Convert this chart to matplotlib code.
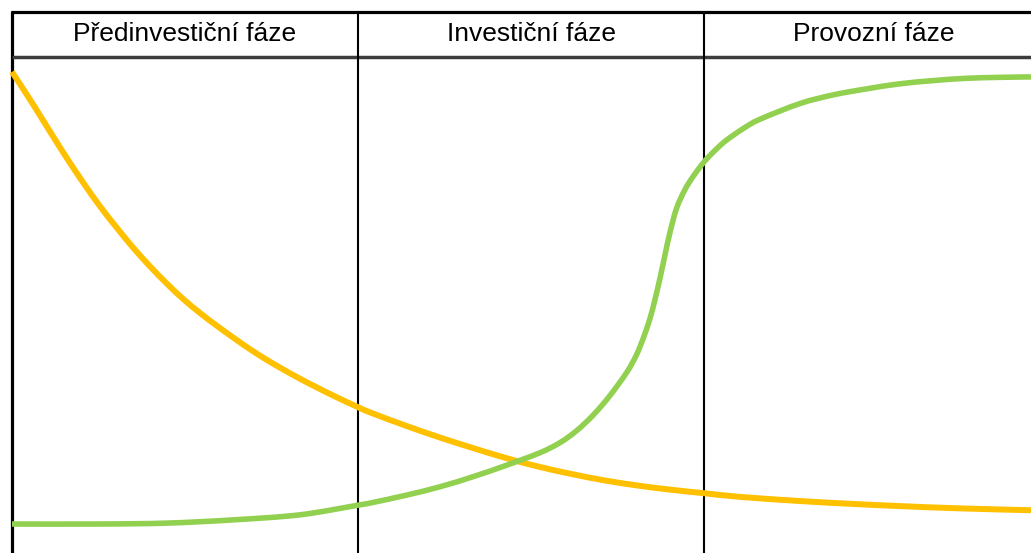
import matplotlib
matplotlib.use("Agg")
import matplotlib.pyplot as plt
from matplotlib.path import Path
from matplotlib.patches import PathPatch

# Phase headers
phases = ["Předinvestiční fáze", "Investiční fáze", "Provozní fáze"]

# Orange curve (decreasing), x in phase units, value 0..1
orange_x = [0.0, 0.062, 0.110, 0.158, 0.206, 0.254, 0.303, 0.351, 0.399, 0.447,
            0.495, 0.543, 0.592, 0.640, 0.688, 0.736, 0.784, 0.832, 0.881, 0.929,
            1.0, 1.044, 1.141, 1.237, 1.333, 1.430, 1.526, 1.622, 1.719, 1.815,
            1.911, 2.0, 2.104, 2.277, 2.422, 2.566, 2.740, 2.945]
orange_y = [0.996, 0.924, 0.866, 0.809, 0.755, 0.704, 0.657, 0.613, 0.573, 0.536,
            0.502, 0.472, 0.444, 0.418, 0.393, 0.370, 0.349, 0.329, 0.310, 0.292,
            0.267, 0.253, 0.226, 0.201, 0.178, 0.156, 0.137, 0.121, 0.107, 0.096,
            0.087, 0.080, 0.072, 0.063, 0.057, 0.052, 0.047, 0.043]

# Green curve (S-shaped increase)
green_x = [0.0, 0.254, 0.448, 0.639, 0.832, 1.0, 1.044, 1.141, 1.237, 1.333, 1.430,
           1.526, 1.584, 1.632, 1.680, 1.728, 1.777, 1.805, 1.825, 1.844, 1.858,
           1.873, 1.887, 1.902, 1.921, 1.945, 1.969, 2.001, 2.037, 2.066, 2.114,
           2.162, 2.277, 2.374, 2.470, 2.566, 2.663, 2.759, 2.855, 2.945]
green_y = [0.013, 0.013, 0.015, 0.022, 0.033, 0.054, 0.060, 0.076, 0.094, 0.116, 0.141,
           0.168, 0.190, 0.216, 0.250, 0.292, 0.343, 0.381, 0.418, 0.460, 0.500,
           0.548, 0.597, 0.648, 0.700, 0.740, 0.769, 0.801, 0.829, 0.848, 0.873,
           0.893, 0.927, 0.946, 0.959, 0.970, 0.977, 0.982, 0.984, 0.985]


def smooth_path(xs, ys):
    """Catmull-Rom spline through the points, rendered as cubic Bezier segments."""
    pts = list(zip(xs, ys))
    verts = [pts[0]]
    codes = [Path.MOVETO]
    n = len(pts)
    for i in range(n - 1):
        p0 = pts[i - 1] if i > 0 else pts[i]
        p1 = pts[i]
        p2 = pts[i + 1]
        p3 = pts[i + 2] if i + 2 < n else pts[i + 1]
        c1 = (p1[0] + (p2[0] - p0[0]) / 6, p1[1] + (p2[1] - p0[1]) / 6)
        c2 = (p2[0] - (p3[0] - p1[0]) / 6, p2[1] - (p3[1] - p1[1]) / 6)
        verts += [c1, c2, p2]
        codes += [Path.CURVE4] * 3
    return Path(verts, codes)


W, H = 1031, 553
fig = plt.figure(figsize=(W / 100, H / 100), dpi=100)
ax = fig.add_axes([0, 0, 1, 1])
x0, unit = 12, 346
y0, vunit = 530, 460
ax.set_xlim(-x0 / unit, (W - x0) / unit)
ax.set_ylim((y0 - H) / vunit, y0 / vunit)
ax.axis("off")

top = (y0 - 12) / vunit
hdr = (y0 - 56.5) / vunit
bottom = (y0 - H - 5) / vunit

# frame
ax.plot([0, 0], [bottom, top + 0.003], color="black", lw=2.3, solid_capstyle="butt")
ax.plot([-0.003, 3.2], [top, top], color="black", lw=2.3, solid_capstyle="butt")
ax.plot([0, 3.2], [hdr, hdr], color="#3c3c3c", lw=2.5, solid_capstyle="butt")
for i in (1, 2):
    ax.plot([i, i], [bottom, top], color="black", lw=1.5, solid_capstyle="butt")

# headers
centers = [0.5, 1.5, 2.49]
for c, t in zip(centers, phases):
    ax.text(c, (top + hdr) / 2, t, ha="center", va="center",
            fontsize=19, family="Liberation Sans", color="black")

ax.add_patch(PathPatch(smooth_path(orange_x, orange_y), facecolor="none",
                       edgecolor="#FFC000", lw=4.3, capstyle="butt",
                       joinstyle="round", zorder=3))
ax.add_patch(PathPatch(smooth_path(green_x, green_y), facecolor="none",
                       edgecolor="#92D050", lw=4.0, capstyle="butt",
                       joinstyle="round", zorder=3))

fig.savefig("out.png", dpi=100)
